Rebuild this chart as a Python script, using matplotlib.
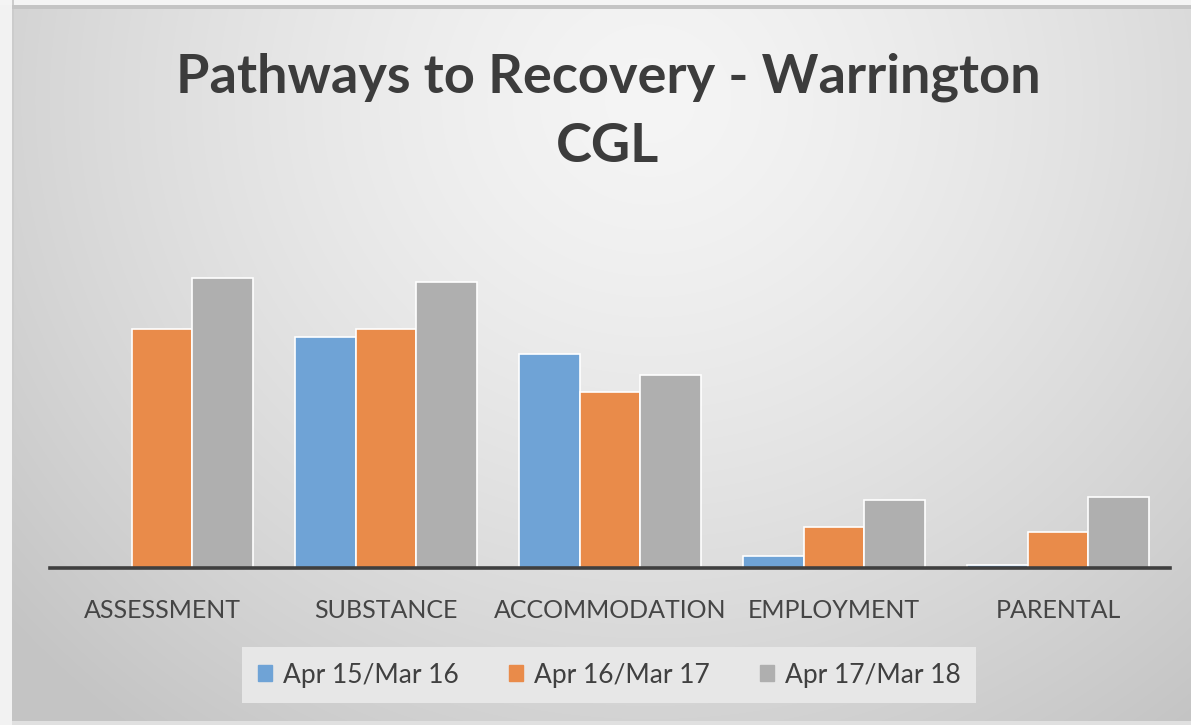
import numpy as np
import matplotlib.pyplot as plt
from matplotlib.patches import Patch

plt.rcParams['font.family'] = ['Lato', 'DejaVu Sans']

# data
categories = ['ASSESSMENT', 'SUBSTANCE', 'ACCOMMODATION', 'EMPLOYMENT', 'PARENTAL']
series_names = ['Apr 15/Mar 16', 'Apr 16/Mar 17', 'Apr 17/Mar 18']
apr15_mar16 = [0, 231, 214, 12, 3]
apr16_mar17 = [239, 239, 176, 41, 36]
apr17_mar18 = [290, 286, 193, 68, 71]
colors = ['#6fa3d6', '#e98b4a', '#afafaf']

W, H = 1191, 725
fig = plt.figure(figsize=(W / 100, H / 100), dpi=100)

# background: soft radial grey gradient with a thin frame
bg = fig.add_axes([0, 0, 1, 1], zorder=0)
yy, xx = np.mgrid[0:H, 0:W]
d = np.sqrt(((xx - 650) / 850.0) ** 2 + ((yy - 100) / 800.0) ** 2)
shade = np.clip(0.96 - 0.19 * d ** 1.4, 0.77, 0.96)
shade[:, :12] = 0.95
shade[:5, :] = 0.96
shade[5:9, 12:] = 0.77
shade[:, 12:14] = np.minimum(shade[:, 12:14], 0.80)
shade[-4:, 12:] = 0.88
bg.imshow(np.dstack([shade] * 3), aspect='auto', interpolation='bilinear')
bg.axis('off')

ax = fig.add_axes([50 / W, 1 - 568 / H, 1120 / W, 353 / H], zorder=1)
ax.patch.set_alpha(0)
x = np.arange(len(categories))
width = 0.272
for i, (vals, c) in enumerate(zip([apr15_mar16, apr16_mar17, apr17_mar18], colors)):
    ax.bar(x + (i - 1) * width, vals, width, color=c, edgecolor='white',
           linewidth=1.2, label=series_names[i])
ax.set_xlim(-0.5, len(categories) - 0.5)
ax.set_ylim(0, 353)
for s in ['top', 'right', 'left']:
    ax.spines[s].set_visible(False)
ax.spines['bottom'].set_color('#3f3f3f')
ax.spines['bottom'].set_linewidth(2.6)
ax.set_yticks([])
ax.set_xticks(x)
ax.set_xticklabels(categories, fontsize=18, color='#454545')
ax.tick_params(axis='x', length=0, pad=22)

fig.text(608 / W, 1 - 112 / H, 'Pathways to Recovery - Warrington\nCGL',
         ha='center', va='center', fontsize=39, fontweight='bold',
         color='#3c3c3c', linespacing=1.5)

handles = [Patch(color=c) for c in colors]
leg = fig.legend(handles, series_names, loc='center', bbox_to_anchor=(609 / W, 1 - 675 / H),
                 ncol=3, fontsize=19, frameon=True, fancybox=False,
                 handlelength=0.55, handleheight=0.55, handletextpad=0.4,
                 columnspacing=1.9, borderpad=0.6, borderaxespad=0)
leg.get_frame().set_facecolor('#e7e7e7')
leg.get_frame().set_edgecolor('none')
leg.get_frame().set_alpha(1)
for t in leg.get_texts():
    t.set_color('#404040')

fig.savefig('out.png', dpi=100)
